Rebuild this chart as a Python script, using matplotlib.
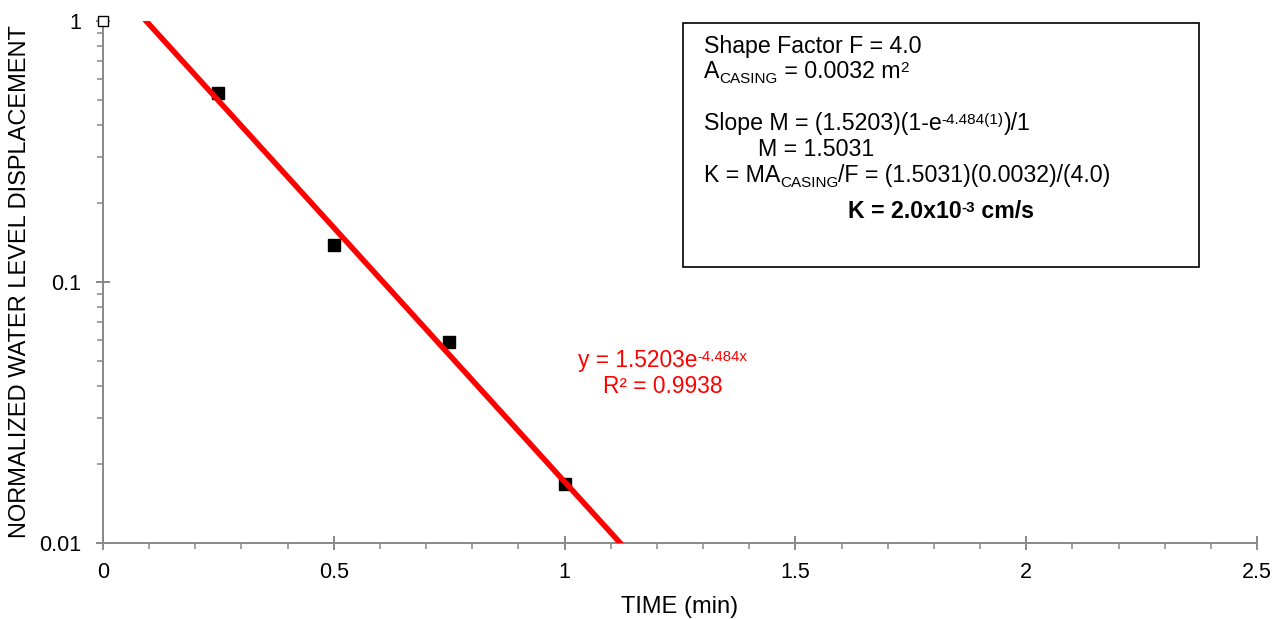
import numpy as np
import matplotlib
matplotlib.use("Agg")
import matplotlib.pyplot as plt
from matplotlib.ticker import FixedLocator, NullFormatter, LogLocator
from matplotlib.patches import Rectangle

plt.rcParams['font.family'] = ['Liberation Sans', 'DejaVu Sans']

# Data
time_min = [0.25, 0.5, 0.75, 1.0]
displacement = [0.53, 0.139, 0.0589, 0.0168]
start_time = [0.0]
start_disp = [1.0]
fit_a = 1.5203
fit_b = -4.484
x_ticks = [0, 0.5, 1, 1.5, 2, 2.5]
y_ticks = [0.01, 0.1, 1]
y_tick_labels = ["0.01", "0.1", "1"]

W, H = 1283, 620
fig = plt.figure(figsize=(W/100, H/100), dpi=100)
ax = fig.add_axes([103/W, 1-543/H, (1257-103)/W, (543-21)/H])
renderer = fig.canvas.get_renderer()

def fx(px):
    return px / W
def fy(py):
    return 1 - py / H

def advance(s, size, weight):
    t1 = fig.text(0, 0, s + '|', fontsize=size, fontweight=weight)
    t2 = fig.text(0, 0, '|', fontsize=size, fontweight=weight)
    w = t1.get_window_extent(renderer).width - t2.get_window_extent(renderer).width
    t1.remove(); t2.remove()
    return w

def rich(x_px, y_px, segs, fs, color='black', weight='normal', ha='left', zorder=7):
    em = fs * 100 / 72
    specs = []
    total = 0
    for s, kind in segs:
        if kind == 'sup':
            size, dy = fs * 0.66, -0.26 * em
        elif kind == 'sub':
            size, dy = fs * 0.66, 0.21 * em
        else:
            size, dy = fs, 0
        w = advance(s, size, weight)
        specs.append((s, size, dy, w))
        total += w
    x = x_px - total / 2 if ha == 'center' else x_px
    for s, size, dy, w in specs:
        fig.text(fx(x), fy(y_px + dy), s, fontsize=size, fontweight=weight, color=color,
                 va='baseline', ha='left', zorder=zorder)
        x += w

gray = '#898989'
ax.set_yscale('log')
ax.set_xlim(0, 2.5)
ax.set_ylim(0.01, 1)

xf = np.linspace(0, 1.3, 300)
ax.plot(xf, fit_a*np.exp(fit_b*xf), color='#ff0000', lw=4.0, zorder=4, solid_capstyle='butt')
ax.plot(time_min, displacement, 's', color='black', ms=9.3, zorder=3, linestyle='none')
ax.plot(start_time, start_disp, 's', mfc='white', mec='black', mew=1.0, ms=7.5, zorder=5, clip_on=False, linestyle='none')

for s in ['top', 'right']:
    ax.spines[s].set_visible(False)
for s in ['left', 'bottom']:
    ax.spines[s].set_color(gray)
    ax.spines[s].set_linewidth(1.4)

ax.set_xticks(x_ticks)
ax.set_xticklabels([f"{v:g}" for v in x_ticks])
ax.xaxis.set_minor_locator(FixedLocator(np.arange(0, 2.51, 0.1)))
ax.set_yticks(y_ticks)
ax.set_yticklabels(y_tick_labels)
ax.yaxis.set_minor_locator(LogLocator(base=10, subs=np.arange(2, 10)))
ax.yaxis.set_minor_formatter(NullFormatter())
ax.tick_params(which='major', direction='inout', length=9.5, width=1.4, color=gray, labelsize=15.5)
ax.tick_params(axis='x', which='major', pad=9)
ax.tick_params(axis='y', which='major', pad=11)
ax.tick_params(which='minor', direction='out', length=4, width=1.1, color=gray)

ax.set_xlabel("TIME (min)", fontsize=17, va='top')
ax.xaxis.set_label_coords(0.5, (543-596)/522)
ax.set_ylabel("NORMALIZED WATER LEVEL DISPLACEMENT", fontsize=17)
ax.yaxis.set_label_coords((31-103)/1154, 0.5)

# Trendline label
red = '#ff0000'
rich(663, 367, [("y = 1.5203e", 'n'), ("-4.484x", 'sup')], 16.4, color=red, ha='center')
rich(663, 393, [("R² = 0.9938", 'n')], 16.4, color=red, ha='center')

# Info box
ax.add_patch(Rectangle((fx(683), fy(267)), fx(1199)-fx(683), fy(23)-fy(267), transform=fig.transFigure,
                       facecolor='white', edgecolor='black', lw=1.2, zorder=6))

fs = 16.7
rich(704, 53, [("Shape Factor F = 4.0", 'n')], fs)
rich(704, 78, [("A", 'n'), ("CASING", 'sub'), (" = 0.0032 m", 'n'), ("2", 'sup')], fs)
rich(704, 130, [("Slope M = (1.5203)(1-e", 'n'), ("-4.484(1)", 'sup'), (")/1", 'n')], fs)
rich(758, 156, [("M = 1.5031", 'n')], fs)
rich(704, 182, [("K = MA", 'n'), ("CASING", 'sub'), ("/F = (1.5031)(0.0032)/(4.0)", 'n')], fs)
rich(848, 218, [("K = 2.0x10", 'n'), ("-3", 'sup'), (" cm/s", 'n')], fs, weight='bold')

fig.savefig("out.png", dpi=100)
